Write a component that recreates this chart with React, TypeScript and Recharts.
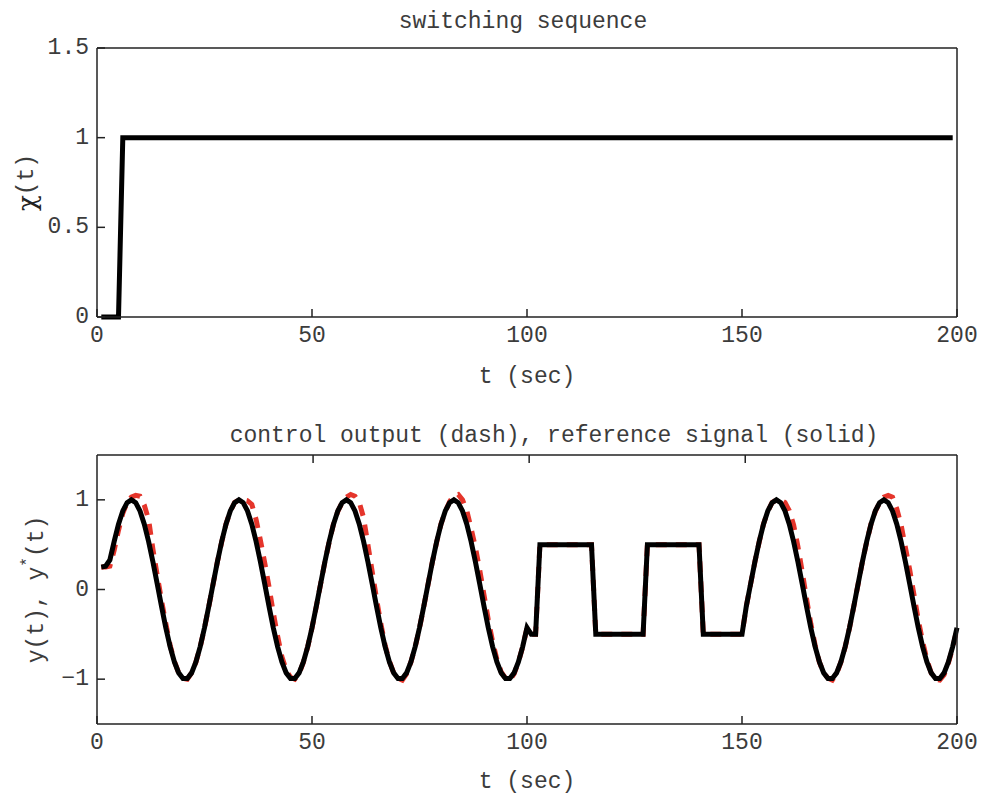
import React from 'react';
import { LineChart, Line, XAxis, YAxis, Label } from 'recharts';

// sample times (sec)
const timeSec = [
  1, 2, 3, 4, 5, 6, 7, 8, 9, 10, 11, 12, 13, 14, 15, 16, 17, 18, 19, 20,
  21, 22, 23, 24, 25, 26, 27, 28, 29, 30, 31, 32, 33, 34, 35, 36, 37, 38, 39, 40,
  41, 42, 43, 44, 45, 46, 47, 48, 49, 50, 51, 52, 53, 54, 55, 56, 57, 58, 59, 60,
  61, 62, 63, 64, 65, 66, 67, 68, 69, 70, 71, 72, 73, 74, 75, 76, 77, 78, 79, 80,
  81, 82, 83, 84, 85, 86, 87, 88, 89, 90, 91, 92, 93, 94, 95, 96, 97, 98, 99, 100,
  101, 102, 103, 104, 105, 106, 107, 108, 109, 110, 111, 112, 113, 114, 115, 116, 117, 118, 119, 120,
  121, 122, 123, 124, 125, 126, 127, 128, 129, 130, 131, 132, 133, 134, 135, 136, 137, 138, 139, 140,
  141, 142, 143, 144, 145, 146, 147, 148, 149, 150, 151, 152, 153, 154, 155, 156, 157, 158, 159, 160,
  161, 162, 163, 164, 165, 166, 167, 168, 169, 170, 171, 172, 173, 174, 175, 176, 177, 178, 179, 180,
  181, 182, 183, 184, 185, 186, 187, 188, 189, 190, 191, 192, 193, 194, 195, 196, 197, 198, 199, 200,
];

// reference signal y*(t), solid black
const referenceSignal = [
  0.25, 0.26, 0.33, 0.536, 0.729, 0.876, 0.969, 1,
  0.969, 0.876, 0.729, 0.536, 0.309, 0.063, -0.187, -0.426, -0.637, -0.809, -0.93, -0.992, -0.992,
  -0.93, -0.809, -0.637, -0.426, -0.187, 0.063, 0.309, 0.536, 0.729, 0.876, 0.969, 1,
  0.969, 0.876, 0.729, 0.536, 0.309, 0.063, -0.187, -0.426, -0.637, -0.809, -0.93, -0.992, -0.992,
  -0.93, -0.809, -0.637, -0.426, -0.187, 0.063, 0.309, 0.536, 0.729, 0.876, 0.969, 1,
  0.969, 0.876, 0.729, 0.536, 0.309, 0.063, -0.187, -0.426, -0.637, -0.809, -0.93, -0.992, -0.992,
  -0.93, -0.809, -0.637, -0.426, -0.187, 0.063, 0.309, 0.536, 0.729, 0.876, 0.969, 1,
  0.969, 0.876, 0.729, 0.536, 0.309, 0.063, -0.187, -0.426, -0.637, -0.809, -0.93, -0.992, -0.992,
  -0.93, -0.809, -0.637, -0.426,
  -0.5, -0.5,
  0.5, 0.5, 0.5, 0.5, 0.5, 0.5, 0.5, 0.5, 0.5, 0.5, 0.5, 0.5, 0.5,
  -0.5, -0.5, -0.5, -0.5, -0.5, -0.5, -0.5, -0.5, -0.5, -0.5, -0.5, -0.5,
  0.5, 0.5, 0.5, 0.5, 0.5, 0.5, 0.5, 0.5, 0.5, 0.5, 0.5, 0.5, 0.5,
  -0.5, -0.5, -0.5, -0.5, -0.5, -0.5, -0.5, -0.5, -0.5, -0.5,
  -0.187, 0.063, 0.309, 0.536, 0.729, 0.876, 0.969, 1,
  0.969, 0.876, 0.729, 0.536, 0.309, 0.063, -0.187, -0.426, -0.637, -0.809, -0.93, -0.992, -0.992,
  -0.93, -0.809, -0.637, -0.426, -0.187, 0.063, 0.309, 0.536, 0.729, 0.876, 0.969, 1,
  0.969, 0.876, 0.729, 0.536, 0.309, 0.063, -0.187, -0.426, -0.637, -0.809, -0.93, -0.992, -0.992,
  -0.93, -0.809, -0.637, -0.426,
];

// control output y(t), red dash
const controlOutput = [
  0.25, 0.25, 0.26, 0.44, 0.66, 0.85, 0.97, 1.03,
  1.05, 1.04, 0.94, 0.78, 0.45, 0.16, -0.12, -0.38, -0.62, -0.8, -0.93, -0.99, -1.0,
  -0.93, -0.81, -0.64, -0.43, -0.19, 0.06, 0.31, 0.53, 0.73, 0.87, 0.97, 1.0,
  1.0, 0.99, 0.95, 0.78, 0.55, 0.3, 0.03, -0.26, -0.52, -0.75, -0.9, -0.98, -1.0,
  -0.94, -0.81, -0.64, -0.43, -0.19, 0.06, 0.31, 0.53, 0.73, 0.87, 0.97, 1.03,
  1.06, 1.04, 0.97, 0.8, 0.5, 0.2, -0.1, -0.38, -0.62, -0.8, -0.93, -0.99, -1.01,
  -0.94, -0.81, -0.64, -0.43, -0.19, 0.06, 0.31, 0.53, 0.73, 0.87, 0.98, 1.05,
  1.06, 1.0, 0.88, 0.68, 0.47, 0.22, -0.06, -0.34, -0.58, -0.78, -0.92, -0.99, -1.01,
  -0.94, -0.81, -0.64, -0.43,
  -0.5, -0.5,
  0.5, 0.5, 0.5, 0.5, 0.5, 0.5, 0.5, 0.5, 0.5, 0.5, 0.5, 0.5, 0.5,
  -0.5, -0.5, -0.5, -0.5, -0.5, -0.5, -0.5, -0.5, -0.5, -0.5, -0.5, -0.5,
  0.5, 0.5, 0.5, 0.5, 0.5, 0.5, 0.5, 0.5, 0.5, 0.5, 0.5, 0.5, 0.5,
  -0.5, -0.5, -0.5, -0.5, -0.5, -0.5, -0.5, -0.5, -0.5, -0.5,
  -0.19, 0.06, 0.31, 0.53, 0.73, 0.87, 0.97, 1.0,
  1.0, 0.97, 0.88, 0.72, 0.48, 0.2, -0.1, -0.38, -0.62, -0.81, -0.93, -0.99, -1.01,
  -0.94, -0.81, -0.64, -0.43, -0.19, 0.06, 0.31, 0.53, 0.73, 0.87, 0.97, 1.03,
  1.05, 1.03, 0.9, 0.72, 0.47, 0.22, -0.06, -0.34, -0.58, -0.78, -0.93, -1.0, -1.01,
  -0.95, -0.82, -0.65, -0.44,
];

// switching sequence chi(t)
const switchTime = [1, 5, 6, 199];
const switchValue = [0, 0, 1, 1];

const timeTicks = [0, 50, 100, 150, 200];
const innerTimeTicks = [50, 100, 150];
const chiTicks = [0, 0.5, 1, 1.5];
const outTicks = [-1, 0, 1];

const switchData = switchTime.map((t, i) => ({ t, chi: switchValue[i] }));
const signalData = timeSec.map((t, i) => ({ t, ref: referenceSignal[i], out: controlOutput[i] }));

const FONT = '"Liberation Mono", "DejaVu Sans Mono", monospace';
const TEXT = '#3c3c3c';
const FRAME = '#222';
const TICK = 8;
const txt = { fontFamily: FONT, fontSize: 23, fill: TEXT };
const frameLine = { stroke: FRAME, strokeWidth: 1.5 };
const margin = { top: 47, right: 29, bottom: 13, left: 0 };

const fmt = (v: number) => (v < 0 ? '\u2212' + String(-v) : String(v));

const BottomTick = (p: any) => (
  <g>
    <line x1={p.x} y1={p.y} x2={p.x} y2={p.y - TICK} {...frameLine} />
    <text x={p.x} y={p.y + 19} textAnchor="middle" dominantBaseline="central" {...txt}>
      {fmt(p.payload.value)}
    </text>
  </g>
);

const TopTick = (p: any) => <line x1={p.x} y1={p.y} x2={p.x} y2={p.y + TICK} {...frameLine} />;

const LeftTick = (p: any) => (
  <g>
    <line x1={p.x} y1={p.y} x2={p.x + TICK} y2={p.y} {...frameLine} />
    <text x={p.x - 8} y={p.y} textAnchor="end" dominantBaseline="central" {...txt}>
      {fmt(p.payload.value)}
    </text>
  </g>
);

const RightTick = (p: any) => <line x1={p.x} y1={p.y} x2={p.x - TICK} y2={p.y} {...frameLine} />;

const xTitle = (gap: number) => (p: any) => {
  const vb = p.viewBox;
  return (
    <text x={vb.x + vb.width / 2} y={vb.y + gap} textAnchor="middle" dominantBaseline="central" {...txt}>
      t (sec)
    </text>
  );
};

const plotTitle = (text: string, dx: number, gap: number) => (p: any) => {
  const vb = p.viewBox;
  return (
    <text x={vb.x + vb.width / 2 + dx} y={vb.y + vb.height - gap} textAnchor="middle" dominantBaseline="central" {...txt}>
      {text}
    </text>
  );
};

const chiTitle = (p: any) => {
  const vb = p.viewBox;
  const cx = 27;
  const cy = vb.y + vb.height / 2;
  return (
    <text x={cx} y={cy} transform={`rotate(-90 ${cx} ${cy})`} textAnchor="middle" dominantBaseline="central" {...txt}>
      <tspan fontFamily="DejaVu Serif" fontSize={26} fill="#222">χ</tspan>(t)
    </text>
  );
};

const yTitle = (p: any) => {
  const vb = p.viewBox;
  const cx = 37;
  const cy = vb.y + vb.height / 2;
  return (
    <text x={cx} y={cy} transform={`rotate(-90 ${cx} ${cy})`} textAnchor="middle" dominantBaseline="central" {...txt}>
      y(t), y<tspan dy={-9} fontSize={16}>*</tspan><tspan dy={9}>(t)</tspan>
    </text>
  );
};

export default function App() {
  return (
    <div style={{ position: 'absolute', left: 0, top: 0, width: 987, height: 794, background: '#fff' }}>
      <div style={{ position: 'absolute', left: 0, top: 0 }}>
        <LineChart width={987} height={400} data={switchData} margin={margin}>
          <XAxis xAxisId="b" dataKey="t" type="number" domain={[0, 200]} ticks={timeTicks} interval={0}
            height={70} tickSize={0} tickMargin={0} tickLine={false} axisLine={frameLine} tick={<BottomTick />}>
            <Label content={xTitle(60)} />
          </XAxis>
          <XAxis xAxisId="top" orientation="top" type="number" domain={[0, 200]} ticks={innerTimeTicks} interval={0}
            height={1} tickSize={0} tickMargin={0} tickLine={false} axisLine={frameLine} tick={<TopTick />}>
            <Label content={plotTitle('switching sequence', -4, 26)} />
          </XAxis>
          <YAxis yAxisId="l" type="number" domain={[0, 1.5]} ticks={chiTicks} interval={0}
            width={97} tickSize={0} tickMargin={0} tickLine={false} axisLine={frameLine} tick={<LeftTick />}>
            <Label content={chiTitle} />
          </YAxis>
          <YAxis yAxisId="r" orientation="right" type="number" domain={[0, 1.5]} ticks={[0.5, 1]} interval={0}
            width={1} tickSize={0} tickMargin={0} tickLine={false} axisLine={frameLine} tick={<RightTick />} />
          <Line xAxisId="b" yAxisId="l" dataKey="chi" type="linear" stroke="#000" strokeWidth={5}
            dot={false} isAnimationActive={false} />
        </LineChart>
      </div>
      <div style={{ position: 'absolute', left: 0, top: 407 }}>
        <LineChart width={987} height={400} data={signalData} margin={margin}>
          <XAxis xAxisId="b" dataKey="t" type="number" domain={[0, 200]} ticks={timeTicks} interval={0}
            height={70} tickSize={0} tickMargin={0} tickLine={false} axisLine={frameLine} tick={<BottomTick />}>
            <Label content={xTitle(58)} />
          </XAxis>
          <XAxis xAxisId="top" orientation="top" type="number" domain={[0, 200]} ticks={innerTimeTicks} interval={0}
            height={1} tickSize={0} tickMargin={0} tickLine={false} axisLine={frameLine} tick={<TopTick />}>
            <Label content={plotTitle('control output (dash), reference signal (solid)', 27, 19)} />
          </XAxis>
          <YAxis yAxisId="l" type="number" domain={[-1.5, 1.5]} ticks={outTicks} interval={0}
            width={97} tickSize={0} tickMargin={0} tickLine={false} axisLine={frameLine} tick={<LeftTick />}>
            <Label content={yTitle} />
          </YAxis>
          <YAxis yAxisId="r" orientation="right" type="number" domain={[-1.5, 1.5]} ticks={outTicks} interval={0}
            width={1} tickSize={0} tickMargin={0} tickLine={false} axisLine={frameLine} tick={<RightTick />} />
          <Line xAxisId="b" yAxisId="l" dataKey="out" type="linear" stroke="#e5352b" strokeWidth={5}
            strokeDasharray="11 9" dot={false} isAnimationActive={false} />
          <Line xAxisId="b" yAxisId="l" dataKey="ref" type="linear" stroke="#000" strokeWidth={5}
            dot={false} isAnimationActive={false} />
        </LineChart>
      </div>
    </div>
  );
}
